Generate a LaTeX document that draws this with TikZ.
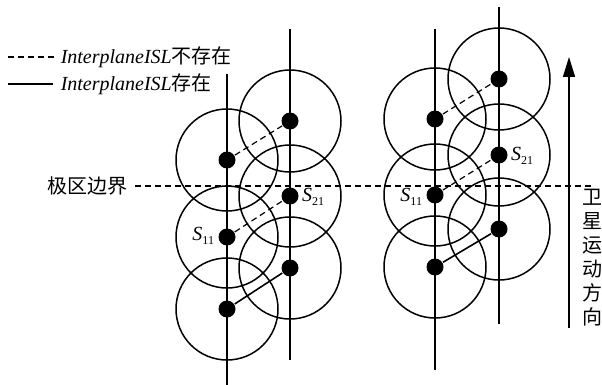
\documentclass[tikz,border=0pt]{standalone}
\usepackage{fontspec}
\setmainfont{Liberation Serif}
\newfontfamily\cjk{Noto Sans CJK SC}
\usetikzlibrary{positioning,arrows.meta}

\tikzset{
  sat/.style={circle, fill=black, inner sep=0pt, minimum size=17pt},
  cover/.style={line width=1.5pt},
  noisl/.style={line width=1.2pt, dash pattern=on 6pt off 4pt},
  isl/.style={line width=1.6pt}
}
\newcommand{\satname}[1]{{\itshape S}\raisebox{-4pt}{\fontsize{12}{12}\selectfont #1}}

\begin{document}
\begin{tikzpicture}[x=1pt, y=-1pt, line width=1.5pt,
  font=\fontsize{20}{24}\selectfont]
\useasboundingbox (0,0) rectangle (602,385);
% orbits
\draw (227,74) -- (227,385)
 (290,29) -- (290,360)
 (435,29) -- (435,370)
 (499,7) -- (499,324);
% satellites
\node[sat] (a1) at (227,160) {};
\node[sat] (a2) at (227,237) {};
\node[sat] (a3) at (227,309) {};
\node[sat] (b1) at (290,121) {};
\node[sat] (b2) at (290,196) {};
\node[sat] (b3) at (290,268) {};
\node[sat] (c1) at (435,119) {};
\node[sat] (c2) at (435,195) {};
\node[sat] (c3) at (435,267) {};
\node[sat] (d1) at (499,79) {};
\node[sat] (d2) at (499,155) {};
\node[sat] (d3) at (499,229) {};
% coverage
\foreach \s in {a1,a2,a3,b1,b2,b3,c1,c2,c3,d1,d2,d3}
  \draw[cover] (\s) circle[radius=51pt];
% links
\draw[noisl] (a1) -- (b1);
\draw[noisl] (a2) -- (b2);
\draw[isl] (a3) -- (b3);
\draw[noisl] (c1) -- (d1);
\draw[noisl] (c2) -- (d2);
\draw[isl] (c3) -- (d3);
\node[right=1pt of b2, yshift=-1pt, inner sep=1pt] (s21a) {\satname{21}};
\node[left=2pt of a2, yshift=1pt, inner sep=1pt] (s11a) {\satname{11}};
\node[right=1pt of d2, yshift=-1pt, inner sep=1pt] (s21b) {\satname{21}};
\node[left=2pt of c2, yshift=-2pt, inner sep=1pt] (s11b) {\satname{11}};
% polar boundary
\node[anchor=east, inner sep=0pt] (pole) at (128,186) {\cjk 极区边界};
\coordinate (poleend) at (592,186);
\draw[noisl] ([xshift=7pt]pole.east) -- (poleend);
% direction
\coordinate (dirlow) at (569,328);
\coordinate (dirhigh) at (569,57);
\draw[line width=1.6pt, -{Triangle[length=20pt, width=12pt]}] (dirlow) -- (dirhigh);
\node[align=center, inner sep=0pt] (dir) at (592,258) {\cjk 卫\\\cjk 星\\\cjk 运\\\cjk 动\\\cjk 方\\\cjk 向};
% legend
\coordinate (l1a) at (8,57);
\coordinate (l1b) at (55,57);
\coordinate (l2a) at (8,84);
\coordinate (l2b) at (53,84);
\draw[noisl] (l1a) -- (l1b);
\draw[isl] (l2a) -- (l2b);
\node[anchor=west, inner sep=0pt] (leg1) at (60,57) {\itshape InterplaneISL\upshape\cjk 不存在};
\node[anchor=west, inner sep=0pt] (leg2) at (60,84) {\itshape InterplaneISL\upshape\cjk 存在};
\end{tikzpicture}
\end{document}
